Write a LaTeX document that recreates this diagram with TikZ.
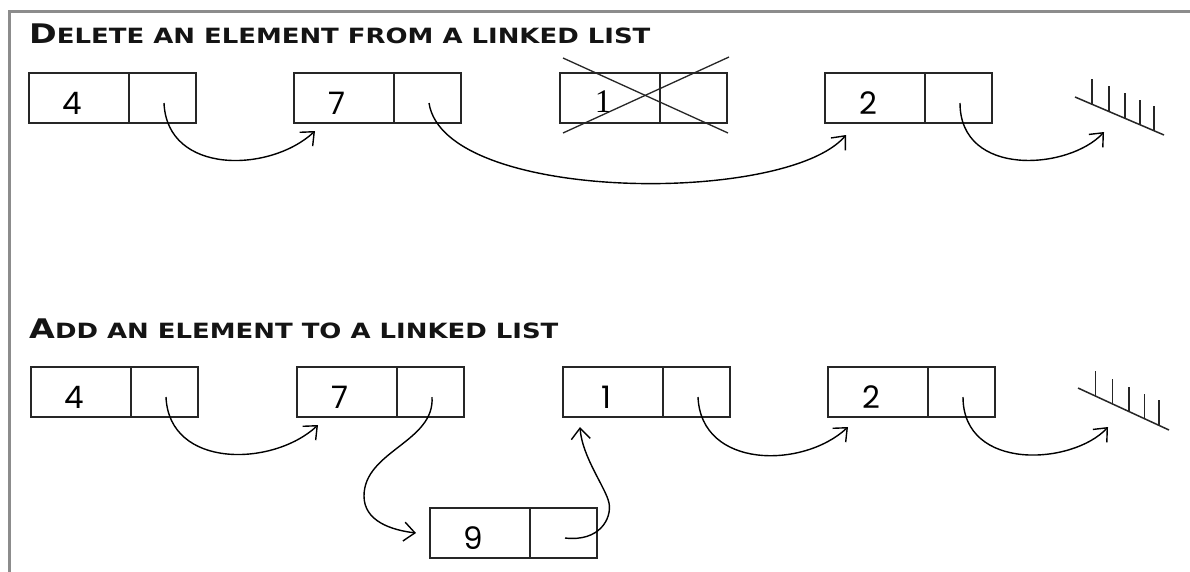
\documentclass[tikz,border=0pt]{standalone}
\usepackage{fontspec}
\setmainfont{DejaVu Sans}
\newfontfamily\digitfont{Poppins}
\newfontfamily\serifdigit{Liberation Serif}
\usetikzlibrary{arrows.meta,calc}

% heading in fake small capitals: large first letter, smaller rest, set wide
\newcommand\hd[2]{\scalebox{1.235}[1]{{\fontsize{27}{27}\selectfont #1}{\fontsize{21}{21}\selectfont #2}}}

% one list element: value cell, pointer cell, digit and pointer start
\newcommand\listcell[4]{%
  \node[valcell] (#1v) at (#2,#3) {};
  \node[ptrcell] (#1p) at (#1v.north east) {};
  \node[digit] (#1n) at ($(#1v.center)+(-7,5)$) {#4};
  \coordinate (#1s) at ($(#1p.north west)+(35,30)$);
}

% null pointer: slanted ground line with short vertical ticks
\newcommand\ground[3]{%
  \coordinate (#1a) at #2;
  \coordinate (#1b) at #3;
  \draw[groundline] (#1a) -- (#1b);
  \foreach \t in {0.19,0.38,0.56,0.73,0.89}
    \draw[groundline] ($(#1a)!\t!(#1b)$) -- ++(0,-25);
}

\begin{document}
\begin{tikzpicture}[x=1pt,y=-1pt,
  frame/.style={draw=black!45,line width=3pt},
  cellbox/.style={draw=black!85,line width=1.4pt,minimum height=50pt,
                  inner sep=0pt,outer sep=0pt,anchor=north west},
  valcell/.style={cellbox,minimum width=100pt},
  ptrcell/.style={cellbox,minimum width=67pt},
  digit/.style={font=\digitfont\fontsize{31}{31}\selectfont,inner sep=0pt},
  link/.style={draw=black,line width=1.4pt,-{Straight Barb[length=11pt,width=19pt]}},
  groundline/.style={draw=black!85,line width=1.5pt},
  strike/.style={draw=black!85,line width=1.3pt},
  heading/.style={anchor=base west,inner sep=0pt,font=\bfseries,text=black!92}
]
\useasboundingbox (0,0) rectangle (1190,571);
\fill[white] (0,0) rectangle (1190,571);
\draw[frame] (9.5,575) -- (9.5,11.5) -- (1195,11.5);

% ---- deleting an element ----
\node[heading] (t1) at (29,43) {\hd{D}{ELETE AN ELEMENT FROM A LINKED LIST}};

\listcell{D4}{29}{73}{4}
\listcell{D7}{294}{73}{7}
\listcell{D1}{560}{73}{}
\listcell{D2}{825}{73}{2}
\node[inner sep=0pt,font=\serifdigit\fontsize{33}{33}\selectfont] (D1n2) at ($(D1v.center)+(-7,4)$) {1};
\draw[strike] ($(D1v.north west)+(3,-15)$) -- ($(D1p.south east)+(1,10)$);
\draw[strike] ($(D1v.south west)+(3,10)$) -- ($(D1p.north east)+(2,-16)$);

\ground{g1}{(1075,97)}{(1164,135)}
\coordinate (g1tip) at (1104,132);

\draw[link] (D4s) .. controls +(3,72) and +(-45,42) .. ($(D7v.south west)+(21,8)$);
\draw[link] (D7s) .. controls +(15,100) and +(-60,70) .. ($(D2v.south west)+(21,12)$);
\draw[link] (D2s) .. controls +(0,75) and +(-35,38) .. (g1tip);

% ---- adding an element ----
\node[heading] (t2) at (29,338) {\hd{A}{DD AN ELEMENT TO A LINKED LIST}};

\listcell{A4}{31}{367}{4}
\listcell{A7}{297}{367}{7}
\listcell{A1}{563}{367}{1}
\listcell{A2}{828}{367}{2}
\listcell{A9}{430}{508}{9}

\ground{g2}{(1078,388)}{(1169,430)}
\coordinate (g2tip) at (1108,427);

\draw[link] (A4s) .. controls +(3,72) and +(-45,42) .. ($(A7v.south west)+(21,8)$);
\draw[link] (A7s) .. controls +(3,45) and +(0,-45) .. ++(-68,99)
                  .. controls +(0,25) and +(-25,-3) .. ($(A9v.west)+(-14,0)$);
\draw[link] (A9s) .. controls +(35,4) and +(3,15) .. ++(44,-35)
                  .. controls +(-3,-15) and +(2,30) .. ($(A1v.south west)+(17,10)$);
\draw[link] (A1s) .. controls +(3,72) and +(-45,42) .. ($(A2v.south west)+(20,10)$);
\draw[link] (A2s) .. controls +(0,75) and +(-35,38) .. (g2tip);
\end{tikzpicture}
\end{document}
